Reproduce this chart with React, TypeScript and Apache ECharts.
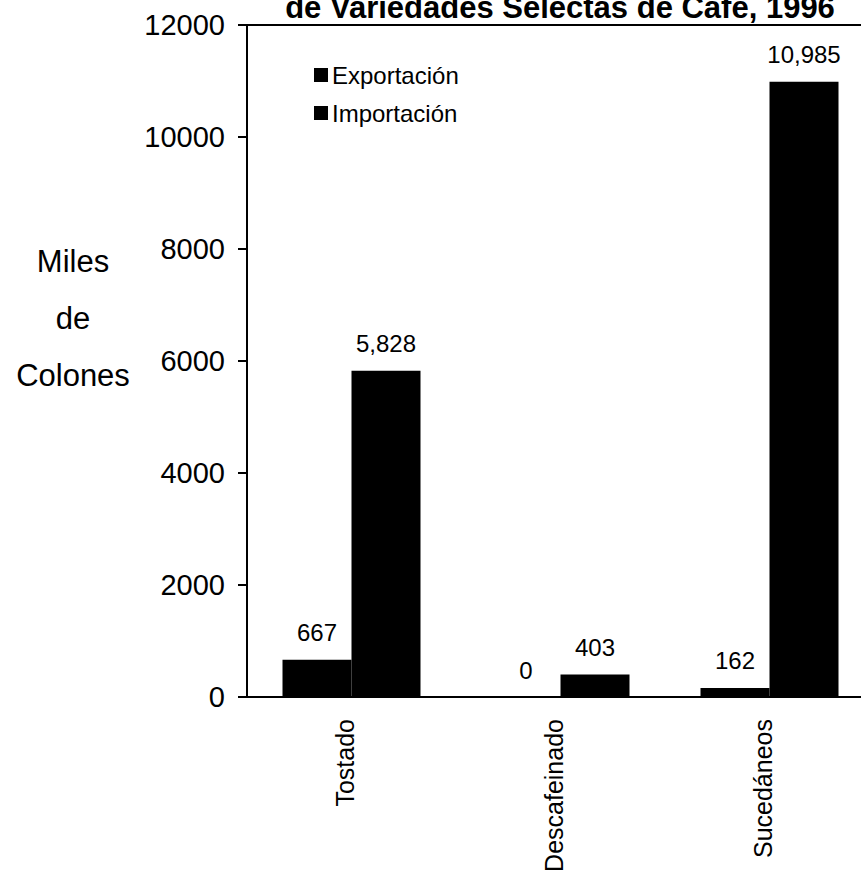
import React, { useEffect, useRef } from "react";
import * as echarts from "echarts";

const categories = ["Tostado", "Descafeinado", "Sucedáneos"];
const exportacion = [667, 0, 162];
const importacion = [5828, 403, 10985];
const seriesNames = ["Exportación", "Importación"];
const yTicks = { min: 0, max: 12000, interval: 2000 };
const titleText = "de Variedades Selectas de Café, 1996";
const yNameLines = ["Miles", "de", "Colones"];

const FONT = "'Liberation Sans', Arial, Helvetica, sans-serif";

const fmt = (v: number) => v.toString().replace(/\B(?=(\d{3})+(?!\d))/g, ",");

export default function App() {
  const ref = useRef<HTMLDivElement>(null);
  useEffect(() => {
    if (!ref.current) return;
    const chart = echarts.init(ref.current, null, { renderer: "svg" });
    const label = {
      show: true,
      position: "top" as const,
      distance: 15,
      color: "#000",
      fontSize: 24,
      fontFamily: FONT,
      formatter: (p: any) => fmt(p.value),
    };
    chart.setOption({
      animation: false,
      backgroundColor: "#fff",
      textStyle: { fontFamily: FONT, color: "#000" },
      grid: {
        left: 247,
        right: 6,
        top: 25,
        bottom: 185,
        show: true,
        borderColor: "#000",
        borderWidth: 2,
      },
      legend: {
        orient: "vertical",
        left: 309,
        top: 58,
        itemWidth: 14,
        itemHeight: 14,
        itemGap: 14,
        icon: "rect",
        selectedMode: false,
        textStyle: { fontSize: 24, color: "#000", fontFamily: FONT, padding: [0, 0, 0, -1] },
        data: seriesNames,
      },
      xAxis: {
        type: "category",
        data: categories,
        axisLine: { show: true, lineStyle: { color: "#000", width: 2 } },
        axisTick: { show: false },
        axisLabel: {
          rotate: 90,
          margin: 22,
          fontSize: 25,
          lineHeight: 14,
          verticalAlign: "bottom",
          color: "#000",
          fontFamily: FONT,
        },
        splitLine: { show: false },
      },
      yAxis: {
        type: "value",
        min: yTicks.min,
        max: yTicks.max,
        interval: yTicks.interval,
        axisLine: { show: true, lineStyle: { color: "#000", width: 2 } },
        axisTick: { show: true, length: 9, lineStyle: { color: "#000", width: 2 } },
        axisLabel: {
          margin: 22,
          fontSize: 29,
          color: "#000",
          fontFamily: FONT,
          formatter: (v: number) => String(v),
        },
        splitLine: { show: false },
      },
      graphic: [
        {
          type: "text",
          x: 560,
          y: 23,
          style: {
            text: titleText,
            fontSize: 31,
            fontWeight: "bold",
            fontFamily: FONT,
            fill: "#000",
            align: "center",
            verticalAlign: "bottom",
          },
        },
        ...yNameLines.map((t, i) => ({
          type: "text",
          x: 73,
          y: 261 + i * 57,
          style: {
            text: t,
            fontSize: 31,
            fontFamily: FONT,
            fill: "#000",
            align: "center",
            verticalAlign: "middle",
          },
        })),
      ],
      series: [
        {
          name: seriesNames[0],
          type: "bar",
          data: exportacion,
          barWidth: 69,
          barGap: "0%",
          itemStyle: { color: "#000" },
          label,
        },
        {
          name: seriesNames[1],
          type: "bar",
          data: importacion,
          barWidth: 69,
          barGap: "0%",
          itemStyle: { color: "#000" },
          label,
        },
      ],
    });
    return () => chart.dispose();
  }, []);
  return (
    <div
      style={{
        position: "absolute",
        left: 0,
        top: 0,
        width: 861,
        height: 882,
        overflow: "hidden",
        background: "#fff",
      }}
    >
      <div ref={ref} style={{ width: 880, height: 882 }} />
    </div>
  );
}
